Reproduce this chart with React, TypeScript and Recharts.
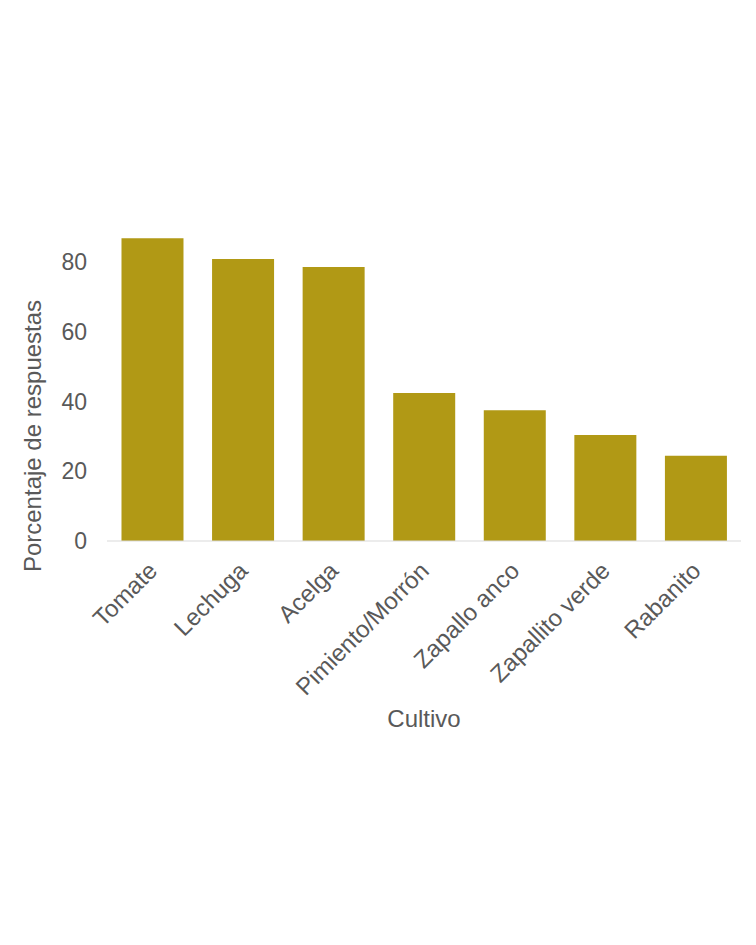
import { BarChart, Bar, XAxis, YAxis } from "recharts";

const CULTIVOS = [
  "Tomate",
  "Lechuga",
  "Acelga",
  "Pimiento/Morrón",
  "Zapallo anco",
  "Zapallito verde",
  "Rabanito",
];
const PORCENTAJES = [86.8, 80.8, 78.5, 42.4, 37.5, 30.4, 24.4];
const Y_TICKS = [0, 20, 40, 60, 80];

const TEXT = "#595959";
const FONT = "'Liberation Sans', Arial, sans-serif";

const data = CULTIVOS.map((cultivo, i) => ({ cultivo, pct: PORCENTAJES[i] }));

function RotatedTick({ x, y, payload }: { x?: number; y?: number; payload?: { value: string } }) {
  return (
    <text
      x={x}
      y={y}
      dx={-12}
      dy={21}
      textAnchor="end"
      fill={TEXT}
      fontSize={24}
      fontFamily={FONT}
      transform={`rotate(-45, ${x}, ${y})`}
    >
      {payload?.value}
    </text>
  );
}

export default function App() {
  return (
    <div style={{ width: 740, height: 929, fontFamily: FONT }}>
      <BarChart
        width={740}
        height={929}
        data={data}
        margin={{ top: 219, right: 7, bottom: 196, left: 0 }}
        barCategoryGap="16%"
      >
        <XAxis
          dataKey="cultivo"
          interval={0}
          height={200}
          tickLine={false}
          axisLine={{ stroke: "#D9D9D9" }}
          tick={<RotatedTick />}
          label={{
            value: "Cultivo",
            position: "insideBottom",
            offset: 14,
            fill: TEXT,
            fontSize: 24,
            fontFamily: FONT,
          }}
        />
        <YAxis
          width={99}
          domain={[0, 90]}
          ticks={Y_TICKS}
          axisLine={false}
          tickLine={false}
          tickMargin={14}
          tick={{ fill: TEXT, fontSize: 23, fontFamily: FONT }}
          label={{
            content: ({ viewBox }: any) => (
              <text
                x={viewBox.x + 33}
                y={viewBox.y + viewBox.height / 2 + 52}
                textAnchor="middle"
                fill={TEXT}
                fontSize={24}
                fontFamily={FONT}
                transform={`rotate(-90, ${viewBox.x + 33}, ${viewBox.y + viewBox.height / 2 + 52})`}
              >
                Porcentaje de respuestas
              </text>
            ),
          }}
        />
        <Bar dataKey="pct" fill="#B19915" isAnimationActive={false} />
      </BarChart>
    </div>
  );
}
